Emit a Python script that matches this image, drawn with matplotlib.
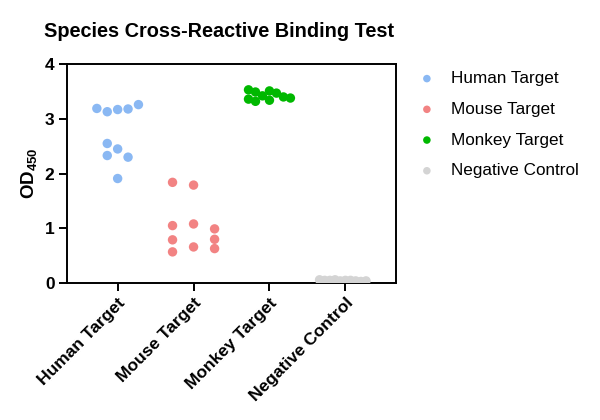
import matplotlib
matplotlib.use("Agg")
import matplotlib.pyplot as plt
import numpy as np

plt.rcParams['font.family'] = ['Liberation Sans', 'DejaVu Sans']
plt.rcParams['mathtext.fontset'] = 'custom'
plt.rcParams['mathtext.bf'] = 'Liberation Sans:bold'
plt.rcParams['mathtext.rm'] = 'Liberation Sans:bold'

# ---- data ----
categories = ["Human Target", "Mouse Target", "Monkey Target", "Negative Control"]
human = [3.17, 3.13, 3.18, 3.19, 3.26, 2.45, 2.55, 2.33, 2.30, 1.91]
mouse = [1.79, 1.84, 1.08, 1.05, 0.99, 0.66, 0.57, 0.63, 0.79, 0.80]
monkey = [3.51, 3.42, 3.34, 3.47, 3.49, 3.40, 3.32, 3.53, 3.38, 3.36]
negative = [0.05, 0.04, 0.05, 0.06, 0.04, 0.05, 0.03, 0.05, 0.04, 0.06]
yticks = [0, 1, 2, 3, 4]

series = [human, mouse, monkey, negative]
colors = ["#8ab8f3", "#f28383", "#00b800", "#d4d4d4"]
lane_step = [0.137, 0.277, 0.092, 0.068]   # swarm lane width (x units)
collide = 0.152                              # vertical clearance within a lane


def swarm_offsets(values, step, thr):
    """Greedy lane swarm: each point takes the nearest free lane."""
    lanes = {}
    out = []
    order = [0]
    for k in range(1, 12):
        order += [-k, k]
    for v in values:
        for ln in order:
            if all(abs(v - u) >= thr for u in lanes.get(ln, [])):
                lanes.setdefault(ln, []).append(v)
                out.append(ln * step)
                break
    return np.array(out)


fig = plt.figure(figsize=(6, 4.2), dpi=100)
ax = fig.add_axes([0.1117, 0.326, 0.5483, 0.5214])

for i, (vals, c, st, lab) in enumerate(zip(series, colors, lane_step, categories)):
    off = swarm_offsets(vals, st, collide)
    ax.scatter(i + off, vals, s=46, color=c, edgecolors='none', label=lab, zorder=3)

ax.set_xlim(-0.667, 3.667)
ax.set_ylim(0, 4)
ax.set_yticks(yticks)
ax.set_yticklabels([str(t) for t in yticks], fontweight='bold', fontsize=12.5)
ax.set_xticks(range(len(categories)))
ax.set_xticklabels(categories, rotation=45, ha='right', rotation_mode='anchor',
                   fontweight='bold', fontsize=12.5)
for sp in ax.spines.values():
    sp.set_linewidth(1.4)
    sp.set_color('black')
ax.tick_params(axis='both', direction='out', length=6, width=1.4, color='black', pad=3)
ax.set_ylabel(r'$\mathbf{OD_{450}}$', fontsize=13.5, labelpad=4)

fig.text(0.073, 0.925, "Species Cross-Reactive Binding Test", fontsize=14.3,
         fontweight='bold', ha='left', va='center')

ax.legend(loc='upper left', bbox_to_anchor=(0.683, 0.847), bbox_transform=fig.transFigure,
          frameon=False, fontsize=12.3, labelspacing=0.92, handletextpad=0.8,
          markerscale=0.8, borderaxespad=0, handlelength=1.2)

fig.savefig("out.png", dpi=100)
